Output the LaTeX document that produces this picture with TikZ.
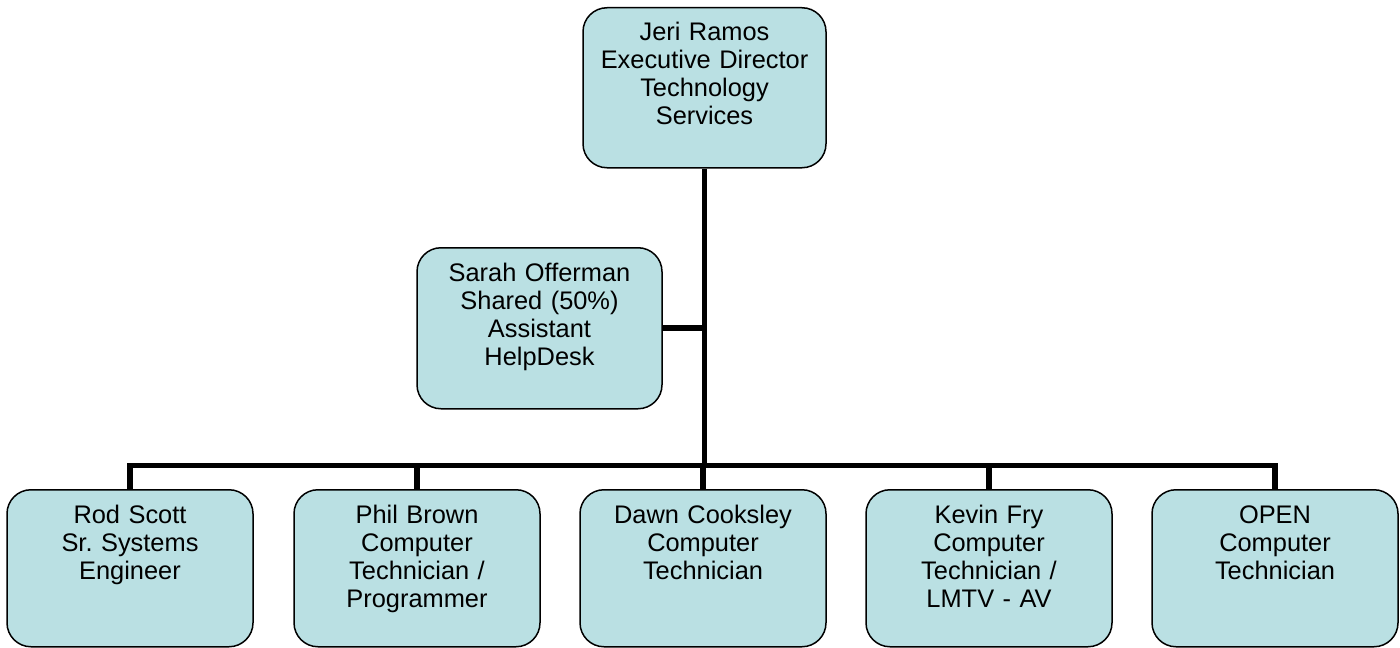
\documentclass[tikz,border=0pt]{standalone}
\usepackage{fontspec}
\setmainfont{Liberation Sans}
\usepackage{tikz}
\usetikzlibrary{positioning}
\definecolor{boxfill}{RGB}{186,224,227}
\frenchspacing

\begin{document}
\begin{tikzpicture}[x=0.5pt, y=-0.5pt,
		staffbox/.style={draw, line width=0.75pt, fill=boxfill, rounded corners=12pt,
			align=center, anchor=north, inner xsep=3pt, inner ysep=6pt,
			font=\fontsize{12.7}{14}\selectfont},
		headbox/.style={staffbox, text width=115.5pt, text height=10.5pt, text depth=57.5pt},
		sidebox/.style={staffbox, text width=116.5pt, text height=11pt, text depth=57.5pt},
		rowbox/.style={staffbox, text width=117pt, text height=11pt, text depth=55.5pt},
		orgline/.style={line width=2.8pt}]
				\useasboundingbox (0,0) rectangle (1400,647);
				\node[headbox] (jeri) at (704.5,7) {Jeri Ramos\\Executive Director\\Technology\\Services};
				\node[sidebox] (sarah) at (539.5,247) {Sarah Offerman\\Shared (50\%)\\Assistant\\HelpDesk};
				\foreach \name/\x/\txt in {rod/130/{Rod Scott\\Sr. Systems\\Engineer},
						phil/417/{Phil Brown\\Computer\\Technician /\\Programmer},
						dawn/703/{Dawn Cooksley\\Computer\\Technician},
						kevin/989/{Kevin Fry\\Computer\\Technician /\\LMTV - AV},
						open/1275/{OPEN\\Computer\\Technician}} {
					\node[rowbox] (\name) at (\x,489) {\txt};
				}
				\coordinate (bus) at (jeri.south |- 0,465.5);
				\draw[orgline] (jeri.south) -- (bus);
				\draw[orgline] (sarah.east) -- (sarah.east -| bus);
				\draw[orgline] (rod.north) |- (bus) -| (open.north);
				\foreach \name in {phil,dawn,kevin} {
					\draw[orgline] (\name.north) -- (\name.north |- bus);
				}
			\end{tikzpicture}
\end{document}
